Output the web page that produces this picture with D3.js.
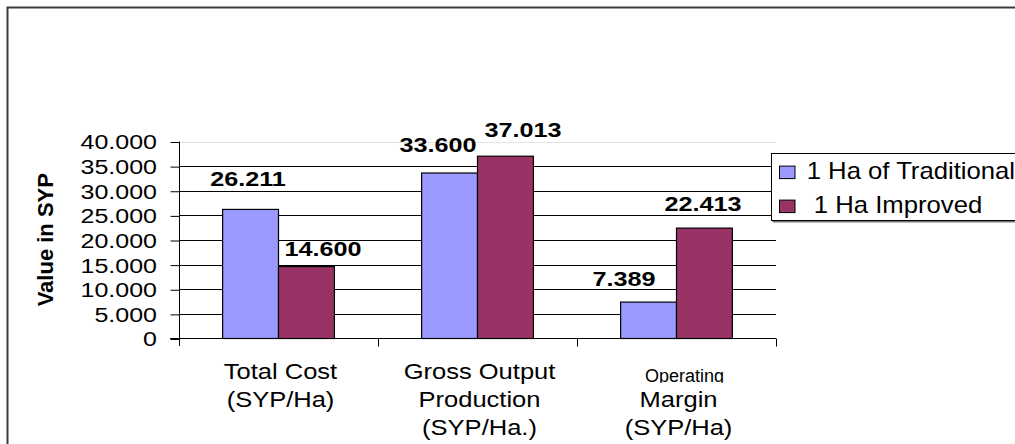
<!DOCTYPE html>
<html>
<head>
<meta charset="utf-8">
<script src="https://cdn.jsdelivr.net/npm/d3@7"></script>
<style>
  body { margin: 0; background: white; }
  svg { display: block; font-family: "Liberation Sans", Arial, sans-serif; }
  text { white-space: pre; }
</style>
</head>
<body>
<svg id="chart" width="1015" height="444"></svg>
<script>
const categories = ['Total Cost (SYP/Ha)', 'Gross Output Production (SYP/Ha.)', 'Operating Margin (SYP/Ha)']
const categoryLines = [
  ['Total Cost', '(SYP/Ha)'],
  ['Gross Output', 'Production', '(SYP/Ha.)'],
  ['Operating', 'Margin', '(SYP/Ha)']
]
const seriesNames = ['1 Ha of Traditional', ' 1 Ha Improved']
const traditional = [26211, 33600, 7389]
const improved = [14600, 37013, 22413]
const yTicks = [0, 5000, 10000, 15000, 20000, 25000, 30000, 35000, 40000]
const colors = ['#9999ff', '#993366']

const series = [traditional, improved]
// label placement relative to bar centre / top
const labelNudge = [
  [[-2.5, -23.4], [-11.5, -21.3], [-24.5, -16.1]],
  [[16.5, -10.6], [17.5, -19.5], [-1.5, -17.1]]
]

const locale = d3.formatLocale({decimal: ',', thousands: '.', grouping: [3], currency: ['', '']})
const fmt = locale.format(',d')

const svg = d3.select('#chart')
const plotL = 179.5, plotR = 776, plotT = 141.5, plotB = 338.5

const x0 = d3.scaleBand().domain(categories).range([179, plotR]).paddingInner(0).paddingOuter(0)
const x1 = d3.scaleBand().domain(d3.range(series.length)).range([0, x0.bandwidth()]).paddingInner(0).paddingOuter(0.78)
const y = d3.scaleLinear().domain([0, 40000]).range([plotB, plotT])

// outer frame
svg.append('rect')
  .attr('x', 7.5).attr('y', 7.5)
  .attr('width', 1040).attr('height', 480)
  .attr('fill', 'none')
  .attr('stroke', '#3a3a3a')
  .attr('stroke-width', 2)

// gridlines
svg.append('g')
  .selectAll('line')
  .data(yTicks.filter(t => t > 0))
  .join('line')
  .attr('x1', plotL).attr('x2', plotR)
  .attr('y1', d => Math.round(y(d)) + 0.5)
  .attr('y2', d => Math.round(y(d)) + 0.5)
  .attr('stroke', d => d == 40000 ? '#e4e4e4' : '#000')
  .attr('stroke-width', 1)

// bars
const gBars = svg.append('g')
series.forEach((vals, s) => {
  gBars.append('g')
    .selectAll('rect')
    .data(vals)
    .join('rect')
    .attr('x', (d, i) => x0(categories[i]) + x1(s))
    .attr('y', d => y(d))
    .attr('width', x1.bandwidth())
    .attr('height', d => plotB - y(d))
    .attr('fill', colors[s])
    .attr('stroke', '#000')
    .attr('stroke-width', 1.2)
})

// data labels
series.forEach((vals, s) => {
  svg.append('g')
    .selectAll('text')
    .data(vals)
    .join('text')
    .attr('transform', (d, i) => {
      let cx = x0(categories[i]) + x1(s) + x1.bandwidth() / 2 + labelNudge[s][i][0]
      let by = y(d) + labelNudge[s][i][1]
      return `translate(${cx},${by}) scale(1.2,1)`
    })
    .attr('text-anchor', 'middle')
    .attr('font-size', 21)
    .attr('font-weight', 'bold')
    .attr('fill', '#000')
    .text(d => fmt(d))
})

// y axis
const yAxis = svg.append('g')
  .attr('transform', `translate(${plotL},0)`)
  .call(d3.axisLeft(y).tickValues(yTicks).tickSize(9).tickSizeOuter(0).tickFormat(d => fmt(d)))
yAxis.selectAll('path, line').attr('stroke', '#000')
yAxis.selectAll('.tick line').attr('transform', 'translate(0,0.5)')
yAxis.selectAll('.tick text')
  .attr('x', 0).attr('dy', null)
  .attr('font-size', 20)
  .attr('fill', '#000')
  .attr('text-anchor', 'end')
  .attr('transform', 'translate(-22.5,7.4) scale(1.25,1)')
yAxis.select('.domain').attr('d', `M0,${plotT}V346`)
yAxis.attr('font-family', null).attr('font-size', null)

// x axis line and category boundary ticks
const xAxis = svg.append('g')
  .attr('transform', `translate(0,${plotB})`)
  .call(d3.axisBottom(x0).tickSize(0).tickFormat(''))
xAxis.select('.domain').attr('stroke', '#000').attr('d', `M170,0H${plotR}`)
xAxis.selectAll('.tick').remove()
xAxis.selectAll('line.bound')
  .data(categories.map(c => x0(c)).concat([plotR]).slice(1))
  .join('line')
  .attr('class', 'bound')
  .attr('x1', d => Math.round(d) + 0.5).attr('x2', d => Math.round(d) + 0.5)
  .attr('y1', 0).attr('y2', 8)
  .attr('stroke', '#000')

// category labels
svg.append('defs').append('clipPath')
  .attr('id', 'cutOperating')
  .append('rect')
  .attr('x', -200).attr('y', -40).attr('width', 400).attr('height', 41)

const baselines = [379, 407.3, 435]
categoryLines.forEach((lines, i) => {
  let cx = x0(categories[i]) + x0.bandwidth() / 2 + 2
  lines.forEach((ln, k) => {
    let small = ln == 'Operating'
    svg.append('text')
      .attr('transform', small
        ? `translate(${cx + 6},${381.7})`
        : `translate(${cx},${baselines[k]}) scale(1.16,1)`)
      .attr('clip-path', small ? 'url(#cutOperating)' : null)
      .attr('text-anchor', 'middle')
      .attr('font-size', small ? 18 : 22)
      .attr('fill', '#000')
      .text(ln)
  })
})

// y axis title
svg.append('text')
  .attr('transform', 'translate(53.3,239.7) rotate(-90)')
  .attr('text-anchor', 'middle')
  .attr('font-size', 22)
  .attr('font-weight', 'bold')
  .attr('fill', '#000')
  .text('Value in SYP')

// legend
const legend = svg.append('g')
legend.append('rect')
  .attr('x', 772.5).attr('y', 155.5)
  .attr('width', 300).attr('height', 67)
  .attr('fill', '#777')
legend.append('rect')
  .attr('x', 771.5).attr('y', 153.5)
  .attr('width', 300).attr('height', 67)
  .attr('fill', 'white')
  .attr('stroke', '#000')

const rowBase = [179.3, 213.3]
seriesNames.forEach((name, s) => {
  legend.append('rect')
    .attr('x', 779.5).attr('y', rowBase[s] - 13.2)
    .attr('width', 15.5).attr('height', 12.5)
    .attr('fill', colors[s])
    .attr('stroke', '#000')
  legend.append('text')
    .attr('transform', `translate(806.7,${rowBase[s]}) scale(1.07,1)`)
    .attr('font-size', 24)
    .attr('fill', '#000')
    .text(name)
})
</script>
</body>
</html>
